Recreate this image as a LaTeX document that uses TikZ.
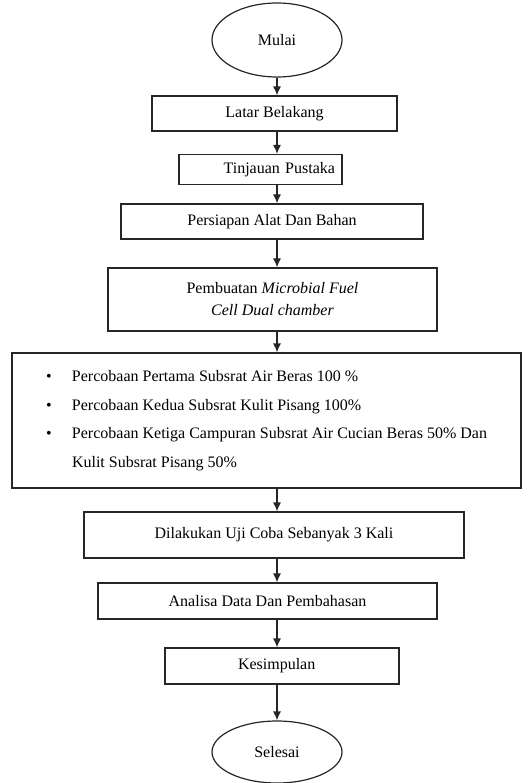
\documentclass[tikz,border=0pt]{standalone}
\usepackage{fontspec}
\setmainfont{Liberation Serif}
\usetikzlibrary{shapes.geometric,arrows.meta}

\begin{document}
\begin{tikzpicture}[x=1pt,y=-1pt]
        \tikzset{every node/.style={font={\fontsize{16}{19}\selectfont}},
          terminal/.style={draw=black!85,ellipse,line width=1.2pt,minimum width=130pt,inner sep=0pt},
          proses/.style={draw=black!85,rectangle,line width=1.2pt,inner sep=0pt},
          panah/.style={draw=black!85,line width=1.2pt,-{Latex[length=9pt,width=8pt]}}}
        \useasboundingbox (0,0) rectangle (528,783);
        \coordinate (sumbu) at (277,0);
        % alur penelitian
        \node[terminal,minimum height=74pt] (mulai) at (277,40) {Mulai};
        \node[proses,minimum width=245pt,minimum height=35pt] (latar) at (274.5,113.5) {Latar Belakang};
        \node[proses,text width=149pt,inner xsep=7pt,align=right,minimum height=30pt] (tinjauan) at (260.5,169.5) {Tinjauan Pustaka};
        \node[proses,minimum width=302pt,minimum height=35pt] (persiapan) at (272,221.5) {Persiapan Alat Dan Bahan};
        \node[proses,minimum width=329pt,minimum height=63pt,align=center,
          font={\fontsize{16}{22}\selectfont}] (pembuatan) at (272.5,299.5)
          {Pembuatan \textit{Microbial Fuel}\\ \textit{Cell Dual chamber}};
        \node[proses,minimum width=509pt,minimum height=135pt,align=left,
          font={\fontsize{16}{28.5}\selectfont}] (percobaan) at (266.5,420.5)
          {\makebox[26pt][l]{\textbullet}Percobaan Pertama Subsrat Air Beras 100 \%\\
           \makebox[26pt][l]{\textbullet}Percobaan Kedua Subsrat Kulit Pisang 100\%\\
           \makebox[26pt][l]{\textbullet}Percobaan Ketiga Campuran Subsrat Air Cucian Beras 50\% Dan\\
           \hspace*{26pt}Kulit Subsrat Pisang 50\%};
        \node[proses,minimum width=380pt,minimum height=46pt] (uji) at (274,535) {Dilakukan Uji Coba Sebanyak 3 Kali};
        \node[proses,minimum width=339pt,minimum height=36pt] (analisa) at (267.5,601) {Analisa Data Dan Pembahasan};
        \node[proses,text width=220pt,inner xsep=7pt,align=left,minimum height=36pt] (kesimpulan) at (282,666) {\hspace*{66pt}Kesimpulan};
        \node[terminal,minimum height=62pt] (selesai) at (277,752) {Selesai};
        % panah
        \draw[panah] (mulai.south) -- (latar.north -| sumbu);
        \draw[panah] (latar.south -| sumbu) -- (tinjauan.north -| sumbu);
        \draw[panah] (tinjauan.south -| sumbu) -- (persiapan.north -| sumbu);
        \draw[panah] (persiapan.south -| sumbu) -- (pembuatan.north -| sumbu);
        \draw[panah] (pembuatan.south -| sumbu) -- (percobaan.north -| sumbu);
        \draw[panah] (percobaan.south -| sumbu) -- (uji.north -| sumbu);
        \draw[panah] (uji.south -| sumbu) -- (analisa.north -| sumbu);
        \draw[panah] (analisa.south -| sumbu) -- (kesimpulan.north -| sumbu);
        \draw[panah] (kesimpulan.south -| sumbu) -- (selesai.north);
      \end{tikzpicture}
\end{document}
